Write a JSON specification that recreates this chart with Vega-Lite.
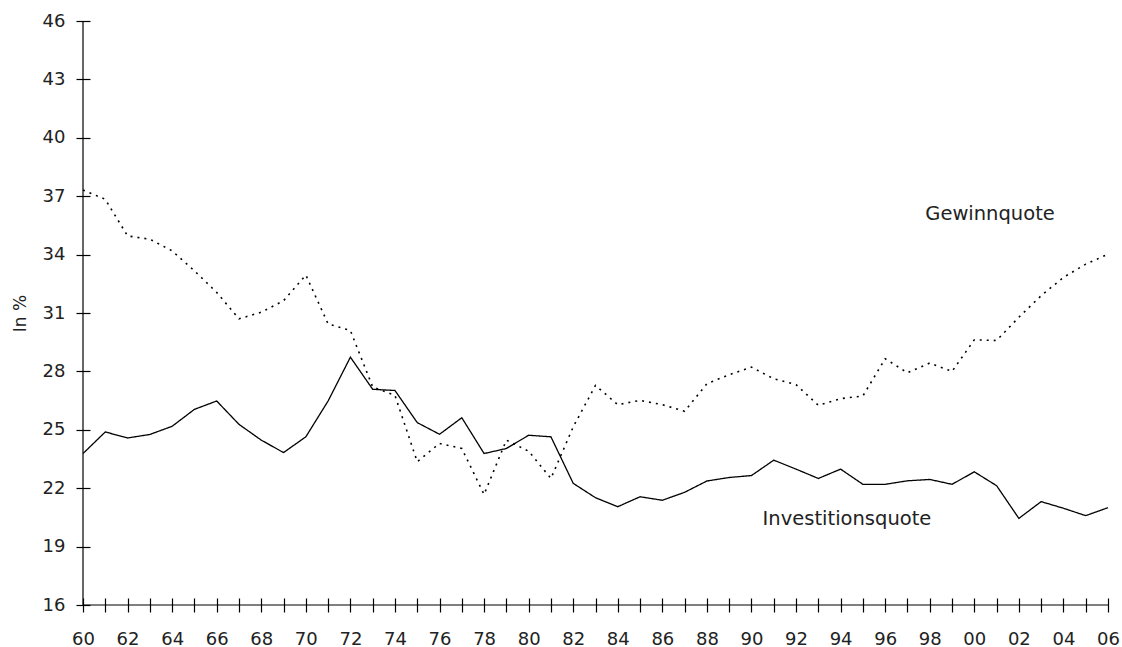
{
  "$schema": "https://vega.github.io/schema/vega-lite/v6.json",
  "autosize": {"type": "none"},
  "width": 1025,
  "height": 584,
  "padding": {"left": 83, "top": 21, "right": 14, "bottom": 42},
  "background": "white",
  "config": {
    "view": {"stroke": null},
    "font": "DejaVu Sans",
    "axis": {
      "grid": false,
      "labelFont": "DejaVu Sans",
      "labelFontSize": 18,
      "labelColor": "#222222",
      "domainColor": "#000000",
      "tickColor": "#000000",
      "domainWidth": 1.2,
      "tickWidth": 1.2,
      "titleFont": "DejaVu Sans",
      "titleFontSize": 17,
      "titleFontWeight": "normal",
      "titleColor": "#222222"
    }
  },
  "layer": [
    {
      "data": {
        "values": [
          {"year": 1960, "series": "Investitionsquote", "value": 23.78},
          {"year": 1961, "series": "Investitionsquote", "value": 24.89},
          {"year": 1962, "series": "Investitionsquote", "value": 24.58},
          {"year": 1963, "series": "Investitionsquote", "value": 24.76},
          {"year": 1964, "series": "Investitionsquote", "value": 25.18},
          {"year": 1965, "series": "Investitionsquote", "value": 26.05},
          {"year": 1966, "series": "Investitionsquote", "value": 26.48},
          {"year": 1967, "series": "Investitionsquote", "value": 25.28},
          {"year": 1968, "series": "Investitionsquote", "value": 24.47},
          {"year": 1969, "series": "Investitionsquote", "value": 23.83},
          {"year": 1970, "series": "Investitionsquote", "value": 24.64},
          {"year": 1971, "series": "Investitionsquote", "value": 26.48},
          {"year": 1972, "series": "Investitionsquote", "value": 28.73},
          {"year": 1973, "series": "Investitionsquote", "value": 27.08},
          {"year": 1974, "series": "Investitionsquote", "value": 27.02},
          {"year": 1975, "series": "Investitionsquote", "value": 25.37},
          {"year": 1976, "series": "Investitionsquote", "value": 24.77},
          {"year": 1977, "series": "Investitionsquote", "value": 25.62},
          {"year": 1978, "series": "Investitionsquote", "value": 23.78},
          {"year": 1979, "series": "Investitionsquote", "value": 24.04},
          {"year": 1980, "series": "Investitionsquote", "value": 24.72},
          {"year": 1981, "series": "Investitionsquote", "value": 24.64},
          {"year": 1982, "series": "Investitionsquote", "value": 22.25},
          {"year": 1983, "series": "Investitionsquote", "value": 21.51},
          {"year": 1984, "series": "Investitionsquote", "value": 21.05},
          {"year": 1985, "series": "Investitionsquote", "value": 21.56},
          {"year": 1986, "series": "Investitionsquote", "value": 21.38},
          {"year": 1987, "series": "Investitionsquote", "value": 21.79},
          {"year": 1988, "series": "Investitionsquote", "value": 22.37},
          {"year": 1989, "series": "Investitionsquote", "value": 22.55},
          {"year": 1990, "series": "Investitionsquote", "value": 22.65},
          {"year": 1991, "series": "Investitionsquote", "value": 23.44},
          {"year": 1992, "series": "Investitionsquote", "value": 22.98},
          {"year": 1993, "series": "Investitionsquote", "value": 22.5},
          {"year": 1994, "series": "Investitionsquote", "value": 22.98},
          {"year": 1995, "series": "Investitionsquote", "value": 22.2},
          {"year": 1996, "series": "Investitionsquote", "value": 22.2},
          {"year": 1997, "series": "Investitionsquote", "value": 22.38},
          {"year": 1998, "series": "Investitionsquote", "value": 22.45},
          {"year": 1999, "series": "Investitionsquote", "value": 22.2},
          {"year": 2000, "series": "Investitionsquote", "value": 22.84},
          {"year": 2001, "series": "Investitionsquote", "value": 22.13},
          {"year": 2002, "series": "Investitionsquote", "value": 20.45},
          {"year": 2003, "series": "Investitionsquote", "value": 21.31},
          {"year": 2004, "series": "Investitionsquote", "value": 20.97},
          {"year": 2005, "series": "Investitionsquote", "value": 20.59},
          {"year": 2006, "series": "Investitionsquote", "value": 21.0},
          {"year": 1960, "series": "Gewinnquote", "value": 37.32},
          {"year": 1961, "series": "Gewinnquote", "value": 36.84},
          {"year": 1962, "series": "Gewinnquote", "value": 34.96},
          {"year": 1963, "series": "Gewinnquote", "value": 34.79},
          {"year": 1964, "series": "Gewinnquote", "value": 34.19},
          {"year": 1965, "series": "Gewinnquote", "value": 33.17},
          {"year": 1966, "series": "Gewinnquote", "value": 32.06},
          {"year": 1967, "series": "Gewinnquote", "value": 30.7},
          {"year": 1968, "series": "Gewinnquote", "value": 31.04},
          {"year": 1969, "series": "Gewinnquote", "value": 31.63},
          {"year": 1970, "series": "Gewinnquote", "value": 32.95},
          {"year": 1971, "series": "Gewinnquote", "value": 30.44},
          {"year": 1972, "series": "Gewinnquote", "value": 30.1},
          {"year": 1973, "series": "Gewinnquote", "value": 27.2},
          {"year": 1974, "series": "Gewinnquote", "value": 26.77},
          {"year": 1975, "series": "Gewinnquote", "value": 23.36},
          {"year": 1976, "series": "Gewinnquote", "value": 24.3},
          {"year": 1977, "series": "Gewinnquote", "value": 24.04},
          {"year": 1978, "series": "Gewinnquote", "value": 21.68},
          {"year": 1979, "series": "Gewinnquote", "value": 24.47},
          {"year": 1980, "series": "Gewinnquote", "value": 23.9},
          {"year": 1981, "series": "Gewinnquote", "value": 22.5},
          {"year": 1982, "series": "Gewinnquote", "value": 25.15},
          {"year": 1983, "series": "Gewinnquote", "value": 27.28},
          {"year": 1984, "series": "Gewinnquote", "value": 26.29},
          {"year": 1985, "series": "Gewinnquote", "value": 26.51},
          {"year": 1986, "series": "Gewinnquote", "value": 26.29},
          {"year": 1987, "series": "Gewinnquote", "value": 25.95},
          {"year": 1988, "series": "Gewinnquote", "value": 27.37},
          {"year": 1989, "series": "Gewinnquote", "value": 27.83},
          {"year": 1990, "series": "Gewinnquote", "value": 28.22},
          {"year": 1991, "series": "Gewinnquote", "value": 27.62},
          {"year": 1992, "series": "Gewinnquote", "value": 27.32},
          {"year": 1993, "series": "Gewinnquote", "value": 26.26},
          {"year": 1994, "series": "Gewinnquote", "value": 26.6},
          {"year": 1995, "series": "Gewinnquote", "value": 26.74},
          {"year": 1996, "series": "Gewinnquote", "value": 28.65},
          {"year": 1997, "series": "Gewinnquote", "value": 27.93},
          {"year": 1998, "series": "Gewinnquote", "value": 28.43},
          {"year": 1999, "series": "Gewinnquote", "value": 28.0},
          {"year": 2000, "series": "Gewinnquote", "value": 29.62},
          {"year": 2001, "series": "Gewinnquote", "value": 29.59},
          {"year": 2002, "series": "Gewinnquote", "value": 30.78},
          {"year": 2003, "series": "Gewinnquote", "value": 31.89},
          {"year": 2004, "series": "Gewinnquote", "value": 32.83},
          {"year": 2005, "series": "Gewinnquote", "value": 33.51},
          {"year": 2006, "series": "Gewinnquote", "value": 34.02}
        ]
      },
      "mark": {"type": "line", "color": "#000000"},
      "encoding": {
        "x": {
          "field": "year",
          "type": "quantitative",
          "scale": {"domain": [1960, 2006], "nice": false, "zero": false},
          "axis": {
            "orient": "bottom",
            "title": null,
            "values": [1960,1961,1962,1963,1964,1965,1966,1967,1968,1969,1970,1971,1972,1973,1974,1975,1976,1977,1978,1979,1980,1981,1982,1983,1984,1985,1986,1987,1988,1989,1990,1991,1992,1993,1994,1995,1996,1997,1998,1999,2000,2001,2002,2003,2004,2005,2006],
            "labelExpr": "datum.value % 2 == 0 ? pad(toString(datum.value % 100), 2, '0', 'left') : ''",
            "domain": false,
            "offset": -7,
            "tickSize": 14,
            "labelPadding": 18,
            "labelOverlap": false,
            "labelFlush": false
          }
        },
        "y": {
          "field": "value",
          "type": "quantitative",
          "scale": {"domain": [16, 46], "nice": false, "zero": false},
          "axis": {
            "orient": "left",
            "title": "In %",
            "values": [16, 19, 22, 25, 28, 31, 34, 37, 40, 43, 46],
            "domain": false,
            "offset": -7,
            "tickSize": 14,
            "labelPadding": 11,
            "titlePadding": 13
          }
        },
        "strokeDash": {
          "field": "series",
          "type": "nominal",
          "scale": {"domain": ["Gewinnquote", "Investitionsquote"], "range": [[2, 5], [1, 0]]},
          "legend": null
        },
        "strokeWidth": {
          "field": "series",
          "type": "nominal",
          "scale": {"domain": ["Gewinnquote", "Investitionsquote"], "range": [1.6, 1.3]},
          "legend": null
        }
      }
    },
    {
      "data": {"values": [{"value": 16}]},
      "mark": {"type": "rule", "color": "#000000", "strokeWidth": 1.2},
      "encoding": {
        "y": {
          "field": "value",
          "type": "quantitative",
          "scale": {"domain": [16, 46], "nice": false, "zero": false},
          "axis": {
            "orient": "left",
            "title": "In %",
            "values": [16, 19, 22, 25, 28, 31, 34, 37, 40, 43, 46],
            "domain": false,
            "offset": -7,
            "tickSize": 14,
            "labelPadding": 11,
            "titlePadding": 13
          }
        }
      }
    },
    {
      "data": {"values": [{"year": 1960}]},
      "mark": {"type": "rule", "color": "#000000", "strokeWidth": 1.2},
      "encoding": {
        "x": {
          "field": "year",
          "type": "quantitative",
          "scale": {"domain": [1960, 2006], "nice": false, "zero": false},
          "axis": {
            "orient": "bottom",
            "title": null,
            "values": [1960,1961,1962,1963,1964,1965,1966,1967,1968,1969,1970,1971,1972,1973,1974,1975,1976,1977,1978,1979,1980,1981,1982,1983,1984,1985,1986,1987,1988,1989,1990,1991,1992,1993,1994,1995,1996,1997,1998,1999,2000,2001,2002,2003,2004,2005,2006],
            "labelExpr": "datum.value % 2 == 0 ? pad(toString(datum.value % 100), 2, '0', 'left') : ''",
            "domain": false,
            "offset": -7,
            "tickSize": 14,
            "labelPadding": 18,
            "labelOverlap": false,
            "labelFlush": false
          }
        }
      }
    },
    {
      "data": {
        "values": [
          {"label": "Gewinnquote", "year": 1997.8, "value": 36.1},
          {"label": "Investitionsquote", "year": 1990.5, "value": 20.4}
        ]
      },
      "mark": {"type": "text", "align": "left", "baseline": "middle", "fontSize": 19.5, "font": "DejaVu Sans", "color": "#222222"},
      "encoding": {
        "text": {"field": "label"},
        "x": {
          "field": "year",
          "type": "quantitative",
          "scale": {"domain": [1960, 2006], "nice": false, "zero": false},
          "axis": {
            "orient": "bottom",
            "title": null,
            "values": [1960,1961,1962,1963,1964,1965,1966,1967,1968,1969,1970,1971,1972,1973,1974,1975,1976,1977,1978,1979,1980,1981,1982,1983,1984,1985,1986,1987,1988,1989,1990,1991,1992,1993,1994,1995,1996,1997,1998,1999,2000,2001,2002,2003,2004,2005,2006],
            "labelExpr": "datum.value % 2 == 0 ? pad(toString(datum.value % 100), 2, '0', 'left') : ''",
            "domain": false,
            "offset": -7,
            "tickSize": 14,
            "labelPadding": 18,
            "labelOverlap": false,
            "labelFlush": false
          }
        },
        "y": {
          "field": "value",
          "type": "quantitative",
          "scale": {"domain": [16, 46], "nice": false, "zero": false},
          "axis": {
            "orient": "left",
            "title": "In %",
            "values": [16, 19, 22, 25, 28, 31, 34, 37, 40, 43, 46],
            "domain": false,
            "offset": -7,
            "tickSize": 14,
            "labelPadding": 11,
            "titlePadding": 13
          }
        }
      }
    }
  ]
}
